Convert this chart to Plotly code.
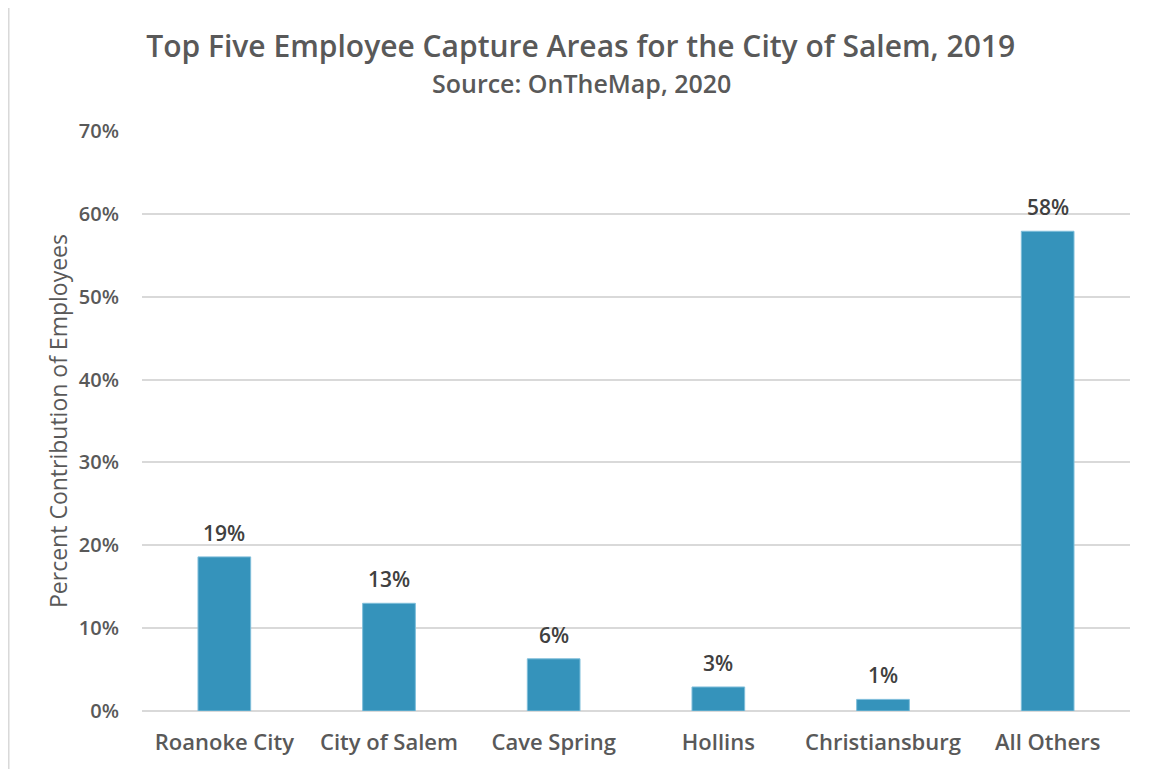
import plotly.graph_objects as go

areas = ["Roanoke City", "City of Salem", "Cave Spring", "Hollins", "Christiansburg", "All Others"]
share = [18.6, 13.0, 6.3, 2.9, 1.4, 57.9]

FONT = "Open Sans"
GREY = "#595959"
W = 600

fig = go.Figure()

fig.add_trace(go.Bar(
    x=areas,
    y=share,
    marker=dict(color="#3593BB", line=dict(color="#7FBEDA", width=1)),
    showlegend=False,
))

# value labels sit a little above each bar
for a, v in zip(areas, share):
    fig.add_annotation(
        x=a, y=v, text=f"{v:.0f}%", showarrow=False,
        yanchor="bottom", yshift=8,
        font=dict(family=FONT, size=21, color="#404040", weight=W),
    )

# light frame on the left and top of the chart area
fig.add_shape(type="line", xref="paper", yref="paper",
              x0=-0.1351, x1=-0.1351, y0=1.218, y1=-0.12,
              line=dict(color="#D9D9D9", width=2))
fig.add_shape(type="line", xref="paper", yref="paper",
              x0=-0.1351, x1=1.03, y0=1.218, y1=1.218,
              line=dict(color="#D9D9D9", width=2))

fig.add_annotation(
    text="Source: OnTheMap, 2020",
    xref="paper", yref="paper", x=0.445, y=1.083,
    xanchor="center", yanchor="middle",
    showarrow=False, font=dict(family=FONT, size=25, color=GREY, weight=W),
)

fig.update_layout(
    width=1150,
    height=761,
    margin=dict(l=134, r=28, t=123, b=58),
    paper_bgcolor="white",
    plot_bgcolor="white",
    title=dict(
        text="Top Five Employee Capture Areas for the City of Salem, 2019",
        xref="container", x=0.498, xanchor="center",
        yref="container", y=0.949, yanchor="middle",
        font=dict(family=FONT, size=30, color=GREY, weight=W),
    ),
    bargap=0.68,
    xaxis=dict(
        tickfont=dict(family=FONT, size=22, color=GREY, weight=W),
        showline=False,
        ticks="",
        ticklabelstandoff=16,
    ),
    yaxis=dict(
        range=[0, 70],
        dtick=10,
        ticksuffix="%",
        tickfont=dict(family=FONT, size=20, color=GREY, weight=W),
        gridcolor="#D9D9D9",
        gridwidth=1.5,
        zeroline=True,
        zerolinecolor="#D9D9D9",
        zerolinewidth=1.5,
        ticklabelstandoff=22,
        title=dict(text="Percent Contribution of Employees",
                   font=dict(family=FONT, size=23, color=GREY),
                   standoff=4),
    ),
)

fig.write_html("out.html")
